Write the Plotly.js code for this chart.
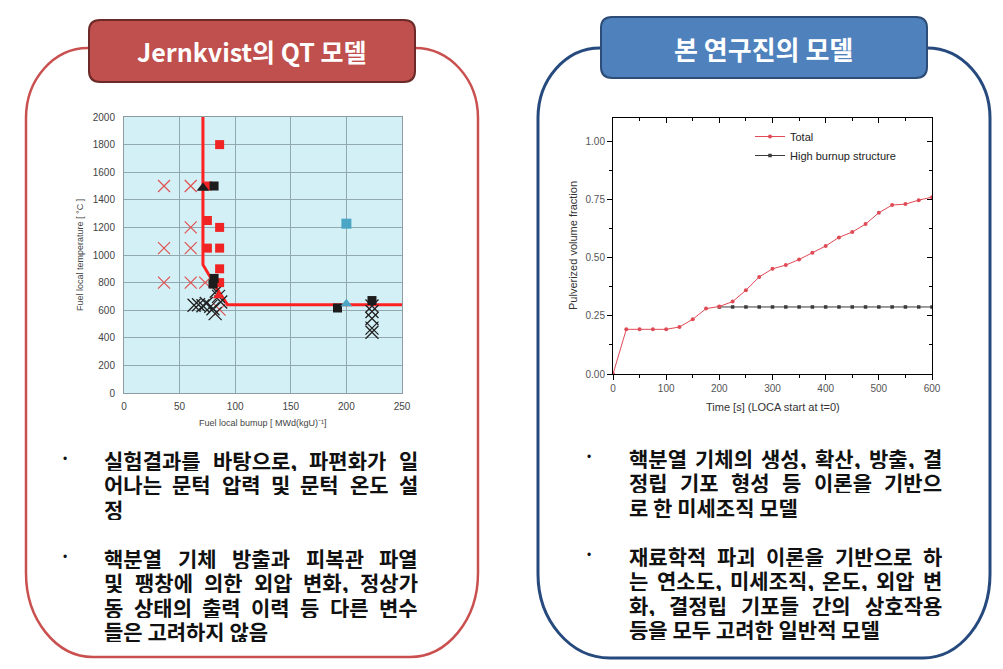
<!DOCTYPE html>
<html><head><meta charset="utf-8">
<script src="https://cdn.plot.ly/plotly-3.0.1.min.js"></script>
<style>html,body{margin:0;padding:0;background:#fff}#chart{width:1003px;height:669px}</style>
</head><body><div id="chart"></div>
<script>
// ---------- DATA: left chart (Jernkvist QT model) ----------
const redCrossX = [36, 60, 60, 36, 60, 36, 60, 73, 86];
const redCrossY = [1500, 1500, 1200, 1050, 1050, 800, 800, 800, 604];
const redSquareX = [86, 75, 75, 86, 75, 86, 86, 86];
const redSquareY = [1800, 1500, 1250, 1200, 1050, 1050, 900, 800];
const redTriX = [85];
const redTriY = [705];
const blackSquareX = [81, 81, 80, 192, 223];
const blackSquareY = [1500, 830, 790, 616, 670];
const blackTriX = [71];
const blackTriY = [1485];
const blackCrossX = [63, 67, 71, 74, 78, 80, 82, 83, 85, 87, 223, 223, 223, 223, 223];
const blackCrossY = [636, 640, 632, 648, 628, 610, 575, 737, 700, 660, 630, 590, 540, 470, 440];
const cyanSquareX = [200];
const cyanSquareY = [1227];
const cyanTriX = [200];
const cyanTriY = [647];
const boundaryX = [71, 71, 86, 93, 250];
const boundaryY = [2000, 930, 725, 640, 640];

// ---------- DATA: right chart (this study's model) ----------
const timeS = [0, 25, 50, 75, 100, 125, 150, 175, 200, 225, 250, 275, 300, 325, 350, 375, 400, 425, 450, 475, 500, 525, 550, 575, 600];
const totalFrac = [0, 0.192, 0.192, 0.192, 0.192, 0.202, 0.235, 0.281, 0.29, 0.311, 0.36, 0.417, 0.452, 0.468, 0.492, 0.521, 0.55, 0.587, 0.61, 0.644, 0.693, 0.726, 0.73, 0.747, 0.76];
const hbsTime = [200, 225, 250, 275, 300, 325, 350, 375, 400, 425, 450, 475, 500, 525, 550, 575, 600];
const hbsFrac = [0.288, 0.288, 0.288, 0.288, 0.288, 0.288, 0.288, 0.288, 0.288, 0.288, 0.288, 0.288, 0.288, 0.288, 0.288, 0.288, 0.288];

// ---------- TEXT ----------
const leftTitle = "Jernkvist의 QT 모델";
const rightTitle = "본 연구진의 모델";
const leftPara1 = ["실험결과를 바탕으로, 파편화가 일", "어나는 문턱 압력 및 문턱 온도 설", "정"];
const leftPara2 = ["핵분열 기체 방출과 피복관 파열", "및 팽창에 의한 외압 변화, 정상가", "동 상태의 출력 이력 등 다른 변수", "들은 고려하지 않음"];
const rightPara1 = ["핵분열 기체의 생성, 확산, 방출, 결", "정립 기포 형성 등 이론을 기반으", "로 한 미세조직 모델"];
const rightPara2 = ["재료학적 파괴 이론을 기반으로 하", "는 연소도, 미세조직, 온도, 외압 변", "화, 결정립 기포들 간의 상호작용", "등을 모두 고려한 일반적 모델"];

// ---------- helpers ----------
const W = 1003, H = 669;
const px = x => x / W;
const py = y => 1 - y / H;
const P = (x, y) => px(x).toFixed(5) + ',' + py(y).toFixed(5);
const KR = 'Noto Sans CJK KR';
const AR = 'Liberation Sans';

function rr(x0, y0, x1, y1, r) {
  return 'M' + P(x0 + r, y0) + ' L' + P(x1 - r, y0) + ' Q' + P(x1, y0) + ' ' + P(x1, y0 + r) +
    ' L' + P(x1, y1 - r) + ' Q' + P(x1, y1) + ' ' + P(x1 - r, y1) +
    ' L' + P(x0 + r, y1) + ' Q' + P(x0, y1) + ' ' + P(x0, y1 - r) +
    ' L' + P(x0, y0 + r) + ' Q' + P(x0, y0) + ' ' + P(x0 + r, y0) + ' Z';
}
function outline(hx0, hx1, ty, L, R, by, bx0, bx1) {
  const k = 0.552;
  const topY = ty + 70, botY = by - 84;
  return 'M' + P(hx0, ty) +
    ' C' + P(hx0 - k * (hx0 - L), ty) + ' ' + P(L, topY - k * 70) + ' ' + P(L, topY) +
    ' L' + P(L, botY) +
    ' C' + P(L, botY + k * 84) + ' ' + P(bx0 - k * (bx0 - L), by) + ' ' + P(bx0, by) +
    ' L' + P(bx1, by) +
    ' C' + P(bx1 + k * (R - bx1), by) + ' ' + P(R, botY + k * 84) + ' ' + P(R, botY) +
    ' L' + P(R, topY) +
    ' C' + P(R, topY - k * 70) + ' ' + P(hx1 + k * (R - hx1), ty) + ' ' + P(hx1, ty);
}

// justified body text: each word placed so that every full line spans the text column
const FS = 21;
const cv = document.createElement('canvas').getContext('2d');
function measure(t) { cv.font = 'bold ' + FS + 'px "' + KR + '"'; return cv.measureText(t).width; }
const annotations = [];
function textAnn(t, x, y) {
  return {text: '<b>' + t + '</b>', x: px(x), y: py(y), xref: 'paper', yref: 'paper',
    xanchor: 'left', yanchor: 'middle', showarrow: false, borderpad: 0, height: 23,
    font: {family: KR, size: FS, color: '#111'}};
}
function addPara(lines, x0, x1, y0, lh) {
  lines.forEach((line, li) => {
    const yc = y0 + li * lh;
    const last = li === lines.length - 1;
    const words = line.split(' ');
    if (last || words.length < 2) { annotations.push(textAnn(line, x0, yc)); return; }
    const ws = words.map(measure);
    const tot = ws.reduce((a, b) => a + b, 0);
    const gap = Math.max(4, (x1 - x0 - tot) / (words.length - 1));
    let x = x0;
    words.forEach((w, i) => { annotations.push(textAnn(w, x, yc)); x += ws[i] + gap; });
  });
}
addPara(leftPara1, 103, 417, 459, 24.5);
addPara(leftPara2, 103, 417, 557, 24.5);
addPara(rightPara1, 628, 941, 457, 24.5);
addPara(rightPara2, 628, 941, 555, 24.5);
[[65, 459], [65, 557], [589, 457], [589, 555]].forEach(b => {
  annotations.push({text: '•', x: px(b[0]), y: py(b[1]), xref: 'paper', yref: 'paper', xanchor: 'center', yanchor: 'middle',
    showarrow: false, font: {family: AR, size: 12, color: '#111'}});
});
// header titles
annotations.push({text: '<b>' + leftTitle + '</b>', x: px(252), y: py(51), xref: 'paper', yref: 'paper', xanchor: 'center', yanchor: 'middle',
  showarrow: false, font: {family: KR, size: 25, color: '#ffffff'}});
annotations.push({text: '<b>' + rightTitle + '</b>', x: px(763), y: py(49), xref: 'paper', yref: 'paper', xanchor: 'center', yanchor: 'middle',
  showarrow: false, font: {family: KR, size: 26, color: '#ffffff'}});
// axis titles
annotations.push({text: 'Fuel local bumup [ MWd(kgU)⁻¹]', x: px(263), y: py(423), xref: 'paper', yref: 'paper', xanchor: 'center', yanchor: 'middle',
  showarrow: false, font: {family: AR, size: 9, color: '#444'}});
annotations.push({text: 'Fuel local temperature [ °C ]', x: px(80), y: py(255), xref: 'paper', yref: 'paper', xanchor: 'center', yanchor: 'middle',
  textangle: -90, showarrow: false, font: {family: AR, size: 9, color: '#444'}});
annotations.push({text: 'Time [s] (LOCA start at t=0)', x: px(773), y: py(407), xref: 'paper', yref: 'paper', xanchor: 'center', yanchor: 'middle',
  showarrow: false, font: {family: AR, size: 11, color: '#333'}});
annotations.push({text: 'Pulverized volume fraction', x: px(573), y: py(246), xref: 'paper', yref: 'paper', xanchor: 'center', yanchor: 'middle',
  textangle: -90, showarrow: false, font: {family: AR, size: 11, color: '#333'}});

const shapes = [
  {type: 'rect', xref: 'x domain', yref: 'y domain', x0: 0, x1: 1, y0: 0, y1: 1, fillcolor: '#d3f0f6', line: {width: 0}, layer: 'below'},
  {type: 'path', xref: 'paper', yref: 'paper', path: outline(88, 415, 48, 26, 478, 657, 93, 410), line: {color: '#c9504f', width: 2.5}},
  {type: 'path', xref: 'paper', yref: 'paper', path: outline(600, 927, 48, 538, 990, 658, 610, 923), line: {color: '#264a7e', width: 3}},
  {type: 'path', xref: 'paper', yref: 'paper', path: rr(89, 20, 415, 82, 11), fillcolor: '#c0504d', line: {color: '#6b2a28', width: 2}},
  {type: 'path', xref: 'paper', yref: 'paper', path: rr(601, 17, 927, 78, 11), fillcolor: '#4f81bd', line: {color: '#2d4d78', width: 2}}
];

const traces = [
  {x: boundaryX, y: boundaryY, xaxis: 'x', yaxis: 'y', mode: 'lines', line: {color: '#ff2222', width: 3}, showlegend: false},
  {x: redCrossX, y: redCrossY, xaxis: 'x', yaxis: 'y', mode: 'markers', marker: {symbol: 'x-thin-open', size: 12, color: '#e05050', line: {color: '#e05050', width: 1.2}}, showlegend: false},
  {x: blackCrossX, y: blackCrossY, xaxis: 'x', yaxis: 'y', mode: 'markers', marker: {symbol: 'x-thin-open', size: 13, color: '#222', line: {color: '#222', width: 1.3}}, showlegend: false},
  {x: redSquareX, y: redSquareY, xaxis: 'x', yaxis: 'y', mode: 'markers', marker: {symbol: 'square', size: 9, color: '#f02424'}, showlegend: false},
  {x: redTriX, y: redTriY, xaxis: 'x', yaxis: 'y', mode: 'markers', marker: {symbol: 'triangle-up', size: 10, color: '#f02424'}, showlegend: false},
  {x: blackSquareX, y: blackSquareY, xaxis: 'x', yaxis: 'y', mode: 'markers', marker: {symbol: 'square', size: 9, color: '#1c1c1c'}, showlegend: false},
  {x: blackTriX, y: blackTriY, xaxis: 'x', yaxis: 'y', mode: 'markers', marker: {symbol: 'triangle-up', size: 11, color: '#1c1c1c'}, showlegend: false},
  {x: cyanSquareX, y: cyanSquareY, xaxis: 'x', yaxis: 'y', mode: 'markers', marker: {symbol: 'square', size: 10, color: '#4aa6c4'}, showlegend: false},
  {x: cyanTriX, y: cyanTriY, xaxis: 'x', yaxis: 'y', mode: 'markers', marker: {symbol: 'triangle-up', size: 10, color: '#4aa6c4'}, showlegend: false},
  {x: hbsTime, y: hbsFrac, xaxis: 'x2', yaxis: 'y2', mode: 'lines+markers', name: 'High burnup structure',
    line: {color: '#3a3a3a', width: 1}, marker: {symbol: 'square', size: 3.5, color: '#3a3a3a'}, legendrank: 2},
  {x: timeS, y: totalFrac, xaxis: 'x2', yaxis: 'y2', mode: 'lines+markers', name: 'Total',
    line: {color: '#e04a55', width: 1}, marker: {symbol: 'circle', size: 4, color: '#e04a55'}, legendrank: 1},
  // carriers for the inward tick marks on the top and right frame of the right chart
  {x: [null], y: [null], xaxis: 'x3', yaxis: 'y2', mode: 'markers', showlegend: false, hoverinfo: 'skip'},
  {x: [null], y: [null], xaxis: 'x2', yaxis: 'y3', mode: 'markers', showlegend: false, hoverinfo: 'skip'}
];

const tickFontL = {family: AR, size: 10, color: '#444'};
const tickFontR = {family: AR, size: 10, color: '#555'};
const layout = {
  width: W, height: H, margin: {l: 0, r: 0, t: 0, b: 0},
  paper_bgcolor: '#ffffff', plot_bgcolor: 'rgba(0,0,0,0)',
  xaxis: {domain: [px(124), px(402)], range: [0, 250], anchor: 'y', dtick: 50, showgrid: true, gridcolor: '#93a9b0', gridwidth: 1,
    showline: true, linecolor: '#8c9ca2', mirror: true, zeroline: false, ticks: '', tickfont: tickFontL, ticklabelstandoff: 4},
  yaxis: {domain: [py(393), py(117)], range: [0, 2000], anchor: 'x', dtick: 200, showgrid: true, gridcolor: '#93a9b0', gridwidth: 1,
    showline: true, linecolor: '#8c9ca2', mirror: true, zeroline: false, ticks: '', tickfont: tickFontL, ticklabelstandoff: 6},
  xaxis2: {domain: [px(613), px(932)], range: [0, 600], anchor: 'y2', dtick: 100, showgrid: false, zeroline: false,
    showline: true, linecolor: '#000', linewidth: 1, mirror: true, ticks: 'outside', ticklen: 5, tickcolor: '#000',
    minor: {dtick: 50, ticks: 'outside', ticklen: 3, tickcolor: '#000'}, tickfont: tickFontR},
  yaxis2: {domain: [py(374), py(118)], range: [0, 1.1], anchor: 'x2', dtick: 0.25, tickformat: '.2f', showgrid: false, zeroline: false,
    showline: true, linecolor: '#000', linewidth: 1, mirror: true, ticks: 'outside', ticklen: 5, tickcolor: '#000',
    minor: {dtick: 0.125, ticks: 'outside', ticklen: 3, tickcolor: '#000'}, tickfont: tickFontR},
  xaxis3: {overlaying: 'x2', side: 'top', anchor: 'y2', range: [0, 600], dtick: 100, showgrid: false, zeroline: false, showline: false,
    ticks: 'inside', ticklen: 5, tickcolor: '#000', showticklabels: false,
    minor: {dtick: 50, ticks: 'inside', ticklen: 3, tickcolor: '#000'}},
  yaxis3: {overlaying: 'y2', side: 'right', anchor: 'x2', range: [0, 1.1], dtick: 0.25, showgrid: false, zeroline: false, showline: false,
    ticks: 'inside', ticklen: 5, tickcolor: '#000', showticklabels: false,
    minor: {dtick: 0.125, ticks: 'inside', ticklen: 3, tickcolor: '#000'}},
  legend: {x: px(750), y: py(122), xanchor: 'left', yanchor: 'top', bgcolor: 'rgba(0,0,0,0)', borderwidth: 0,
    font: {family: AR, size: 11, color: '#222'}, tracegroupgap: 0, itemwidth: 30},
  shapes: shapes,
  annotations: annotations
};
Plotly.newPlot('chart', traces, layout, {displayModeBar: false, staticPlot: true});
</script>
</body></html>
